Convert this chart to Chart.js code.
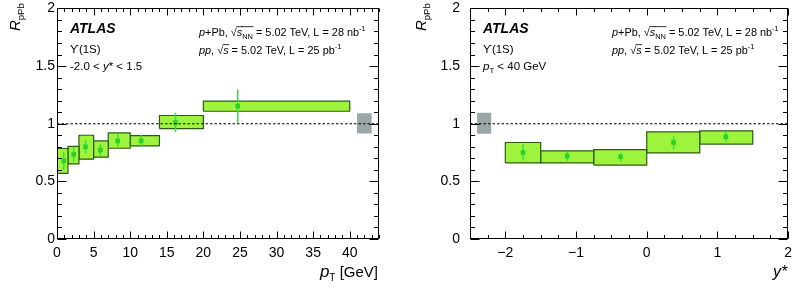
<!DOCTYPE html>
<html>
<head>
<meta charset="utf-8">
<script src="https://cdn.jsdelivr.net/npm/chart.js@4.4.1/dist/chart.umd.min.js"></script>
<style>
body { margin: 0; background: #fff; width: 798px; height: 288px; overflow: hidden; position: relative; }
.panel { position: absolute; top: 0; width: 399px; height: 288px; }
</style>
</head>
<body>
<div class="panel" style="left:0"><canvas id="ptPlot" width="399" height="288"></canvas></div>
<div class="panel" style="left:399px"><canvas id="yPlot" width="399" height="288"></canvas></div>
<script>
// R_pPb vs pT
const ptLo = [0, 1.5, 3, 5, 7, 10, 14, 20];
const ptHi = [1.5, 3, 5, 7, 10, 14, 20, 40];
const ptCenter = [0.92, 2.28, 3.9, 5.92, 8.3, 11.5, 16.2, 24.7];
const ptRatio = [0.678, 0.733, 0.800, 0.771, 0.851, 0.851, 1.010, 1.152];
const ptStatLo = [0.597, 0.670, 0.742, 0.713, 0.800, 0.800, 0.929, 1.007];
const ptStatHi = [0.756, 0.800, 0.857, 0.822, 0.909, 0.900, 1.094, 1.296];
const ptSystLo = [0.569, 0.652, 0.692, 0.710, 0.787, 0.808, 0.958, 1.108];
const ptSystHi = [0.785, 0.803, 0.900, 0.851, 0.920, 0.897, 1.071, 1.195];
const ptGlobal = { lo: 41, hi: 43, min: 0.915, max: 1.09 };
const ptTicks = [0, 5, 10, 15, 20, 25, 30, 35, 40];

// R_pPb vs y*
const yLo = [-2, -1.5, -0.75, 0, 0.75];
const yHi = [-1.5, -0.75, 0, 0.75, 1.5];
const yCenter = [-1.75, -1.125, -0.37, 0.38, 1.12];
const yRatio = [0.750, 0.719, 0.713, 0.837, 0.886];
const yStatLo = [0.678, 0.678, 0.670, 0.777, 0.842];
const yStatHi = [0.823, 0.756, 0.747, 0.892, 0.929];
const ySystLo = [0.660, 0.660, 0.641, 0.747, 0.823];
const ySystHi = [0.837, 0.765, 0.776, 0.929, 0.938];
const yGlobal = { lo: -2.4, hi: -2.2, min: 0.912, max: 1.094 };
const yTicks = [-2, -1, 0, 1, 2];

const rTicks = [0, 0.5, 1, 1.5, 2];

const FONT = '"Liberation Sans", Arial, Helvetica, sans-serif';

function fontFor(p, size) {
  const s = p.s || ((p.sub || p.sup) ? size * 0.68 : size);
  return (p.i ? 'italic ' : '') + (p.b ? 'bold ' : '') + s + 'px ' + FONT;
}

function textWidth(ctx, parts, size) {
  let w = 0;
  parts.forEach(p => { ctx.font = fontFor(p, size); w += ctx.measureText(p.t).width; });
  return w;
}

function drawRich(ctx, x, y, parts, size, alignRight) {
  let cx = alignRight ? x - textWidth(ctx, parts, size) : x;
  ctx.textBaseline = 'alphabetic';
  ctx.textAlign = 'left';
  parts.forEach(p => {
    ctx.font = fontFor(p, size);
    const dy = p.sub ? size * 0.28 : (p.sup ? -size * 0.42 : 0);
    const w = ctx.measureText(p.t).width;
    ctx.fillText(p.t, cx, y + dy);
    if (p.ol) {
      ctx.beginPath();
      ctx.lineWidth = 0.8;
      ctx.moveTo(cx - 0.5, y - size * 0.86);
      ctx.lineTo(cx + w + 0.5, y - size * 0.86);
      ctx.stroke();
    }
    cx += w;
  });
}

// ROOT-like frame: inward ticks on all four sides, plus the panel texts
function framePlugin(d) {
  return {
    id: 'frameTicks',
    afterDatasetsDraw(chart) {
      const ctx = chart.ctx, a = chart.chartArea;
      const x = chart.scales.x, y = chart.scales.y;
      const L = Math.round(a.left) + 0.5, R = Math.round(a.right) - 0.5;
      const T = Math.round(a.top) + 0.5, B = Math.round(a.bottom) - 0.5;
      ctx.save();
      ctx.setLineDash([]);
      ctx.strokeStyle = '#000';
      ctx.lineWidth = 1;
      ctx.beginPath();
      const nx = Math.round((d.xMax - d.xMin) / d.xMinor);
      for (let i = 0; i <= nx; i++) {
        const v = d.xMin + i * d.xMinor;
        const major = Math.abs(v / d.xMajor - Math.round(v / d.xMajor)) < 1e-6;
        const len = major ? 7 : 3.5;
        const px = Math.round(x.getPixelForValue(v)) + 0.5;
        ctx.moveTo(px, B); ctx.lineTo(px, B - len);
        ctx.moveTo(px, T); ctx.lineTo(px, T + len);
      }
      for (let i = 0; i <= 20; i++) {
        const v = i * 0.1;
        const major = i % 5 === 0;
        const len = major ? 9 : 4.5;
        const py = Math.round(y.getPixelForValue(v)) + 0.5;
        ctx.moveTo(L, py); ctx.lineTo(L + len, py);
        ctx.moveTo(R, py); ctx.lineTo(R - len, py);
      }
      ctx.stroke();
      ctx.strokeRect(L, T, R - L, B - T);
      ctx.restore();
    },
    afterDraw(chart) {
      const ctx = chart.ctx, a = chart.chartArea;
      ctx.save();
      ctx.fillStyle = '#000';
      ctx.strokeStyle = '#000';
      const x0 = a.left + 13;
      drawRich(ctx, x0, 33, [{ t: 'ATLAS', i: 1, b: 1 }], 14);
      drawRich(ctx, x0, 53, [{ t: 'ϒ(1S)' }], 11.5);
      drawRich(ctx, x0, 70, d.selection, 11.5);
      const x1 = a.left + 142;
      drawRich(ctx, x1, 36, [
        { t: 'p', i: 1 }, { t: '+Pb, ' }, { t: '√' }, { t: 's', i: 1, ol: 1 }, { t: 'NN', sub: 1, ol: 1 },
        { t: ' = 5.02 TeV, L = 28 nb' }, { t: '-1', sup: 1 }], 10.9);
      drawRich(ctx, x1, 54, [
        { t: 'pp', i: 1 }, { t: ', ' }, { t: '√' }, { t: 's', i: 1, ol: 1 },
        { t: ' = 5.02 TeV, L = 25 pb' }, { t: '-1', sup: 1 }], 10.9);
      drawRich(ctx, a.right - 1, 277, d.xTitle, 15, true);
      ctx.translate(d.yTitleX, 31);
      ctx.rotate(-Math.PI / 2);
      drawRich(ctx, 0, 0, [{ t: 'R', i: 1 }, { t: 'pPb', sub: 1, s: 9.5 }], 15);
      ctx.restore();
    }
  };
}

function boxDataset(x0, x1, lo, hi, fillColor, lineColor) {
  return {
    data: [{ x: x0, y: lo }, { x: x0, y: hi }, { x: x1, y: hi }, { x: x1, y: lo }, { x: x0, y: lo }],
    showLine: true, fill: 'shape', tension: 0,
    backgroundColor: fillColor, borderColor: lineColor || fillColor, borderWidth: lineColor ? 1.2 : 0,
    pointRadius: 0, order: 3
  };
}

function makePanel(id, d) {
  const datasets = [];
  datasets.push({
    data: [{ x: d.xMin, y: 1 }, { x: d.xMax, y: 1 }],
    showLine: true, borderColor: '#000', borderWidth: 1.1, borderDash: [2.5, 2],
    pointRadius: 0, order: 0
  });
  datasets.push({
    data: d.center.map((c, i) => ({ x: c, y: d.ratio[i] })),
    pointStyle: 'rect', pointRadius: 3.3, backgroundColor: '#27d327', borderWidth: 0, order: 1
  });
  d.center.forEach((c, i) => {
    datasets.push({
      data: [{ x: c, y: d.statLo[i] }, { x: c, y: d.statHi[i] }],
      showLine: true, borderColor: '#3fdc3f', borderWidth: 1.5, pointRadius: 0, order: 2
    });
    datasets.push(boxDataset(d.lo[i], d.hi[i], d.systLo[i], d.systHi[i], '#9ef43c', '#2d5a12'));
  });
  datasets.push(boxDataset(d.global.lo, d.global.hi, d.global.min, d.global.max, '#9ba7a7', null));

  new Chart(document.getElementById(id), {
    type: 'scatter',
    data: { datasets: datasets },
    plugins: [framePlugin(d)],
    options: {
      responsive: false,
      animation: false,
      layout: { padding: { top: 8, right: d.padRight, left: 0, bottom: 0 } },
      plugins: {
        legend: { display: false },
        tooltip: { enabled: false }
      },
      scales: {
        x: {
          type: 'linear', min: d.xMin, max: d.xMax,
          afterBuildTicks: s => { s.ticks = d.ticks.map(v => ({ value: v })); },
          afterFit: s => { s.height = 49; },
          grid: { display: false, drawTicks: false },
          border: { display: false },
          ticks: {
            autoSkip: false, maxRotation: 0, padding: 6, color: '#000',
            font: { family: FONT, size: 14 },
            callback: v => (v < 0 ? '\u2212' + Math.abs(v) : String(v))
          }
        },
        y: {
          type: 'linear', min: 0, max: 2,
          afterBuildTicks: s => { s.ticks = rTicks.map(v => ({ value: v })); },
          afterFit: s => { s.width = d.yWidth; },
          grid: { display: false, drawTicks: true, tickLength: d.yPad },
          border: { display: false },
          ticks: {
            padding: 0, color: '#000',
            font: { family: FONT, size: 14 },
            callback: v => String(v)
          }
        }
      }
    }
  });
}

makePanel('ptPlot', {
  lo: ptLo, hi: ptHi, center: ptCenter, ratio: ptRatio,
  statLo: ptStatLo, statHi: ptStatHi, systLo: ptSystLo, systHi: ptSystHi,
  global: ptGlobal, ticks: ptTicks,
  xMin: 0, xMax: 44, xMinor: 1, xMajor: 5,
  yWidth: 57, yPad: 2, padRight: 20, yTitleX: 20,
  selection: [{ t: '-2.0 < ' }, { t: 'y', i: 1 }, { t: '* < 1.5' }],
  xTitle: [{ t: 'p', i: 1, s: 17 }, { t: 'T', sub: 1, s: 10 }, { t: ' [GeV]' }]
});

makePanel('yPlot', {
  lo: yLo, hi: yHi, center: yCenter, ratio: yRatio,
  statLo: yStatLo, statHi: yStatHi, systLo: ySystLo, systHi: ySystHi,
  global: yGlobal, ticks: yTicks,
  xMin: -2.5, xMax: 2, xMinor: 0.25, xMajor: 1,
  yWidth: 71, yPad: 10, padRight: 6, yTitleX: 27,
  selection: [{ t: 'p', i: 1 }, { t: 'T', sub: 1 }, { t: ' < 40 GeV' }],
  xTitle: [{ t: 'y*', i: 1, s: 16 }]
});
</script>
</body>
</html>
